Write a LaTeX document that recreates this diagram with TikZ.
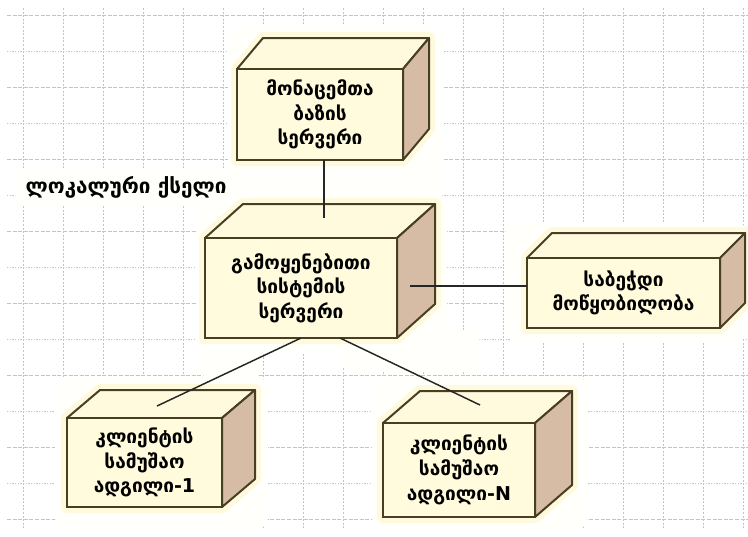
\documentclass[tikz,border=0pt]{standalone}
\usepackage{fontspec}
\newfontfamily\geo{DejaVu Sans}
\definecolor{frontc}{RGB}{255,251,220}
\definecolor{topc}{RGB}{255,250,222}
\definecolor{sidec}{RGB}{214,188,165}
\definecolor{edgec}{RGB}{72,62,36}
\definecolor{gridc}{RGB}{195,195,200}
\definecolor{haloc}{RGB}{255,250,222}
\definecolor{coverc}{RGB}{255,255,251}
\tikzset{
  gridv/.style={gridc, line width=0.6pt, dash pattern=on 1.5pt off 1.2pt},
  gridh/.style={gridc, line width=0.6pt, dash pattern=on 3pt off 1.2pt},
  gridd/.style={gridc, line width=0.6pt, dash pattern=on 1pt off 1pt},
  cover/.style={fill=coverc, rounded corners=10pt},
  halo/.style={draw=haloc, line width=9pt, line join=round, fill=haloc},
  topface/.style={fill=topc, draw=edgec, line width=1.5pt, line join=round},
  sideface/.style={fill=sidec, draw=edgec, line width=1.5pt, line join=round},
  frontface/.style={fill=frontc, draw=edgec, line width=1.5pt, inner sep=0pt, outer sep=0pt,
     align=center, font=\geo\bfseries\fontsize{14.3}{18.5}\selectfont, text=black},
  conn/.style={draw=black!85, line width=1.1pt},
  lbl/.style={font=\geo\bfseries\fontsize{15.5}{18}\selectfont, text=black}
}
% #1 name, #2 x1, #3 y1, #4 x2, #5 y2, #6 dx, #7 dy (up), #8 text
\newcommand\umlbox[8]{%
  \path[halo] (#2,#5) -- (#2,#3) -- ({#2+#6},{#3-#7}) -- ({#4+#6},{#3-#7}) -- ({#4+#6},{#5-#7}) -- (#4,#5) -- cycle;
  \filldraw[topface] (#2,#3) -- ({#2+#6},{#3-#7}) -- ({#4+#6},{#3-#7}) -- (#4,#3) -- cycle;
  \filldraw[sideface] (#4,#3) -- ({#4+#6},{#3-#7}) -- ({#4+#6},{#5-#7}) -- (#4,#5) -- cycle;
  \node[frontface, minimum width={(#4-#2)*0.75pt}, minimum height={(#5-#3)*0.75pt}] (#1) at ({(#2+#4)/2},{(#3+#5)/2}) {#8};
}
\begin{document}
\begin{tikzpicture}[x=0.75pt,y=-0.75pt]
\useasboundingbox (0,0) rectangle (748,536);
\fill[white] (0,0) rectangle (748,536);
% grid
\foreach \x in {23,63,...,743} \draw[gridv] (\x,8) -- (\x,530);
\foreach \y in {15,87,...,519} \draw[gridh] (7,\y) -- (748,\y);
\foreach \y in {51,123,...,483} \draw[gridd] (7,\y) -- (748,\y);
% covered areas of the pasted picture
\fill[cover] (228,24) rectangle (443,205);
\fill[cover] (15,168) rectangle (250,206);
\fill[cover] (196,198) rectangle (447,352);
\fill[cover] (505,222) rectangle (748,342);
\fill[cover] (200,330) rectangle (262,380);
\fill[cover] (55,376) rectangle (268,530);
\fill[cover] (372,376) rectangle (588,530);
\fill[cover] (340,330) rectangle (480,372);
% boxes
\umlbox{db}{237}{69}{403}{160}{26}{31}{მონაცემთა\\ბაზის\\სერვერი}
\umlbox{app}{205}{238}{397}{338}{38}{34}{გამოყენებითი\\სისტემის\\სერვერი}
\umlbox{pr}{527}{258}{720}{328}{25}{25}{საბეჭდი\\მოწყობილობა}
\umlbox{cl1}{67}{418}{222}{507}{33}{28}{კლიენტის\\სამუშაო\\ადგილი-1}
\umlbox{clN}{383}{423}{535}{517}{37}{32}{კლიენტის\\სამუშაო\\ადგილი-N}
% label
\node[lbl] (net) at (126,187) {ლოკალური ქსელი};
% connectors
\coordinate (e1) at (324,218);
\coordinate (e2) at (410,286);
\coordinate (e3) at (157,406);
\coordinate (e4) at (480,405);
\draw[conn] (db.south -| e1) -- (e1);
\draw[conn] (e2) -- (e2 -| pr.west);
\draw[conn] (app.south) -- (e3);
\draw[conn] ([xshift=29.25pt]app.south) -- (e4);
\end{tikzpicture}
\end{document}
